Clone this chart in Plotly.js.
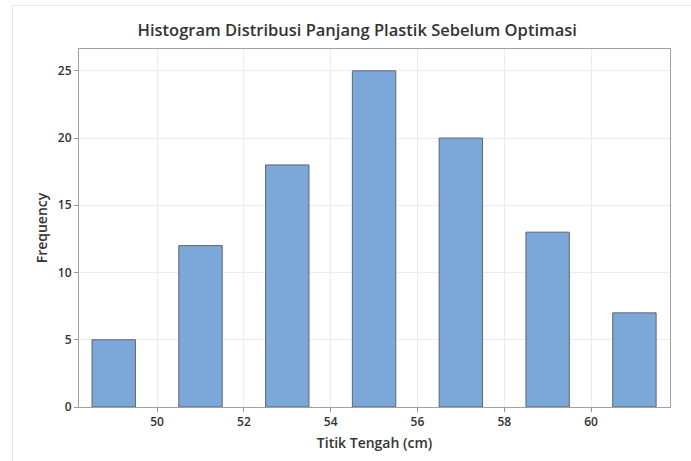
<!DOCTYPE html>
<html>
<head>
<meta charset="utf-8">
<script src="https://cdn.plot.ly/plotly-3.0.1.min.js"></script>
<style>
html,body{margin:0;padding:0;background:#fff;}
#wrap{position:relative;width:691px;height:461px;overflow:hidden;}
#frame{position:absolute;left:12px;top:5px;width:700px;height:470px;border-left:1px solid #e8e8e8;border-top:1px solid #e8e8e8;pointer-events:none;}
#chart{width:691px;height:461px;}
</style>
</head>
<body>
<div id="wrap">
<div id="chart"></div>
<div id="frame"></div>
</div>
<script>
const midpoints = [49, 51, 53, 55, 57, 59, 61];
const frequency = [5, 12, 18, 25, 20, 13, 7];
const xTicks = [50, 52, 54, 56, 58, 60];
const yTicks = [0, 5, 10, 15, 20, 25];

const font = '"Open Sans", "Noto Sans", sans-serif';

Plotly.newPlot('chart', [{
  type: 'bar',
  x: midpoints,
  y: frequency,
  width: 1,
  marker: {color: '#7ba7d9', line: {color: '#5f6670', width: 1}},
  hoverinfo: 'x+y'
}], {
  width: 691, height: 461,
  margin: {l: 79, r: 21, t: 49, b: 54},
  paper_bgcolor: 'rgba(0,0,0,0)',
  plot_bgcolor: '#ffffff',
  title: {text: 'Histogram Distribusi Panjang Plastik Sebelum Optimasi',
          font: {family: font, size: 16.5, color: '#333333', weight: 600},
          x: 0.517, xanchor: 'center', y: 0.935, yanchor: 'middle'},
  xaxis: {
    range: [48.2, 61.82],
    tickvals: xTicks, ticktext: xTicks.map(String),
    ticks: 'outside', ticklen: 4, tickcolor: '#999999',
    showgrid: true, gridcolor: '#ececec', gridwidth: 1,
    zeroline: false,
    showline: true, linecolor: '#a0a0a0', linewidth: 1, mirror: true,
    tickfont: {family: font, size: 12, color: '#333333', weight: 600},
    title: {text: 'Titik Tengah (cm)', font: {family: font, size: 14, color: '#333333', weight: 600}, standoff: 8}
  },
  yaxis: {
    range: [0, 26.62],
    tickvals: yTicks, ticktext: yTicks.map(String),
    ticks: 'outside', ticklen: 4, tickcolor: '#999999',
    showgrid: true, gridcolor: '#ececec', gridwidth: 1,
    zeroline: false,
    showline: true, linecolor: '#a0a0a0', linewidth: 1, mirror: true,
    tickfont: {family: font, size: 12, color: '#333333', weight: 600},
    title: {text: 'Frequency', font: {family: font, size: 14, color: '#333333', weight: 600}, standoff: 6}
  },
  bargap: 0,
  showlegend: false
}, {displayModeBar: false, staticPlot: true});
</script>
</body>
</html>
